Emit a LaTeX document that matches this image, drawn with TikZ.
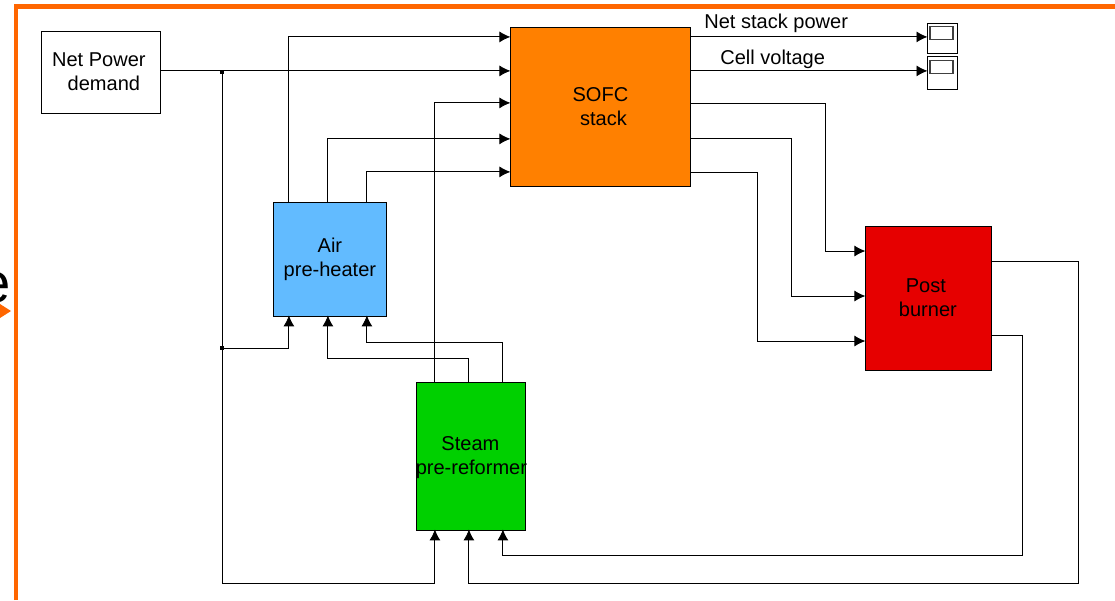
\documentclass[tikz,border=0pt]{standalone}
\usepackage{xcolor}
\usepackage{fontspec}
\setmainfont{Liberation Sans}
\definecolor{frameorange}{HTML}{FF6600}
\definecolor{stackorange}{HTML}{FF8000}
\definecolor{airblue}{HTML}{62BBFF}
\definecolor{steamgreen}{HTML}{00D000}
\definecolor{burnerred}{HTML}{E60000}
\usetikzlibrary{arrows.meta}
\begin{document}
\begin{tikzpicture}[x=0.02cm,y=-0.02cm,
% common options for blocks:
block/.style = {draw, align=center, inner sep=0, line width=0.45pt,
            font=\fontsize{11.4}{13.7}\selectfont},
% common options for the signal lines:
line/.style = {draw, line width=0.5pt, black},
arr/.style = {line, -{Latex[length=0.22cm,width=0.22cm,black]}, shorten >=-0.5pt},
% common options for the small scope boxes:
scopebox/.style = {draw, fill=white, inner sep=0, minimum width=0.6cm, line width=0.45pt},
screenbox/.style = {draw, black!75, inner sep=0, minimum width=0.46cm, minimum height=0.25cm, line width=0.6pt},
joint/.style = {fill=black, inner sep=0, minimum size=0.08cm},
caption/.style = {inner sep=0, font=\fontsize{11.4}{13.7}\selectfont}]
\useasboundingbox (0,0) rectangle (1115,600);
% slide remains
\draw[frameorange, line width=2.3pt] (16,600) -- (16,6.5) -- (1115,6.5);
\node[anchor=base east, inner sep=0, font=\fontsize{32}{38}\selectfont] (cut) at (11,302) {e};
\fill[frameorange] (0,304) -- (11,311) -- (0,318) -- cycle;
% blocks
\node[block, minimum width=2.4cm, minimum height=1.64cm] (net) at (100.9,71.9) {\hspace*{-0.2em}Net Power\\\hspace*{0.3em}demand};
\node[block, fill=stackorange, minimum width=3.62cm, minimum height=3.18cm] (stack) at (600.4,106.4) {SOFC\\\hspace*{0.3em}stack};
\node[block, fill=airblue, minimum width=2.28cm, minimum height=2.28cm] (air) at (329.9,258.9) {Air\\pre-heater};
\node[block, fill=steamgreen, minimum width=2.18cm, minimum height=2.96cm] (steam) at (470.4,455.9) {\rule{0pt}{0.85em}Steam\\\hspace*{0.04cm}\makebox[0pt]{pre-reformer}};
\node[block, fill=burnerred, minimum width=2.52cm, minimum height=2.88cm] (post) at (927.9,297.9) {\hspace*{-0.2em}Post\\burner};
\node[scopebox, minimum height=0.6cm] (scope1) at (942,38.5) {};
\node[scopebox, minimum height=0.66cm] (scope2) at (942,72.5) {};
\node[screenbox] (screen1) at (941.5,33) {};
\node[screenbox] (screen2) at (941.5,67) {};
\node[caption, anchor=base west] (power) at (704,28) {Net stack power};
\node[caption, anchor=base west] (volt) at (720,64) {Cell voltage};
% branch points
\node[joint] (jn1) at (222,72) {};
\node[joint] (jn2) at (222,348) {};
\coordinate (in2) at ([yshift=0.02cm]net.east);
\coordinate (out1) at ([yshift=1.39cm]stack.east);
\coordinate (out2) at ([yshift=0.71cm]stack.east);
\coordinate (lowa) at (222,583);
\coordinate (lowb) at (1078,583);
\coordinate (lowc) at (1022,555);
\coordinate (mida) at (328,358);
\coordinate (midb) at (367,342);
\coordinate (postb1) at (825,251);
\coordinate (postb2) at (791,296);
\coordinate (postb3) at (757,341);
% demand lines
\draw[arr] (in2) -- (in2 -| stack.west);
\draw[line] (jn1.center) -- (jn2.center);
\draw[arr] (jn2.center) -| ([xshift=-0.82cm]air.south);
\draw[arr] (jn2.center) -- (lowa) -| ([xshift=-0.71cm]steam.south);
% air pre-heater to stack
\draw[arr] ([xshift=-0.82cm]air.north) |- ([yshift=1.39cm]stack.west);
\draw[arr] ([xshift=-0.04cm]air.north) |- ([yshift=-0.65cm]stack.west);
\draw[arr] ([xshift=0.74cm]air.north) |- ([yshift=-1.31cm]stack.west);
% steam pre-reformer outlets
\draw[arr] ([xshift=-0.71cm]steam.north) |- ([yshift=0.07cm]stack.west);
\draw[arr] ([xshift=-0.03cm]steam.north) |- (mida) -| ([xshift=-0.04cm]air.south);
\draw[arr] ([xshift=0.65cm]steam.north) |- (midb) -| ([xshift=0.74cm]air.south);
% stack outlets
\draw[arr] (out1) -- (out1 -| scope1.west);
\draw[arr] (out2) -- (out2 -| scope2.west);
\draw[arr] ([yshift=0.05cm]stack.east) -| (postb1) -- (postb1 -| post.west);
\draw[arr] ([yshift=-0.65cm]stack.east) -| (postb2) -- (postb2 -| post.west);
\draw[arr] ([yshift=-1.33cm]stack.east) -| (postb3) -- (postb3 -| post.west);
% burner back to reformer
\draw[arr] ([yshift=0.72cm]post.east) -| (lowb) -| ([xshift=-0.03cm]steam.south);
\draw[arr] ([yshift=-0.76cm]post.east) -| (lowc) -| ([xshift=0.65cm]steam.south);
\end{tikzpicture}
\end{document}
